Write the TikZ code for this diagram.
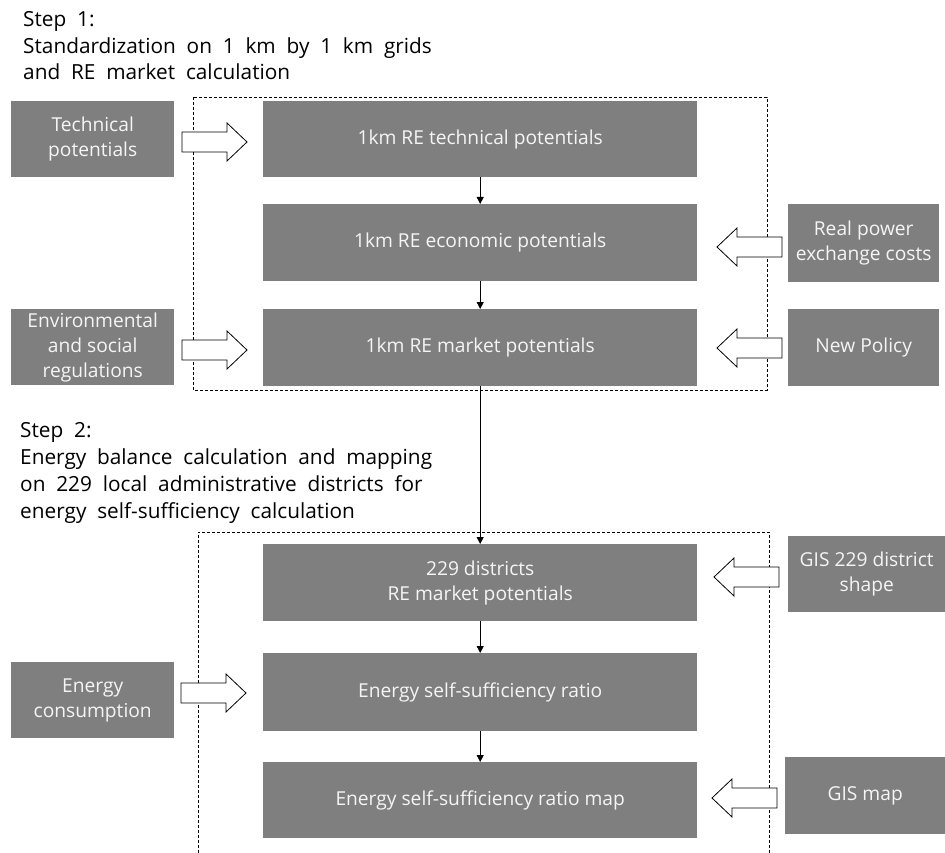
\documentclass[tikz,border=0pt]{standalone}
\usepackage{fontspec}
\setmainfont{Open Sans}
\usetikzlibrary{arrows.meta}
\definecolor{boxgray}{RGB}{127,127,127}
\definecolor{boxtext}{RGB}{245,245,245}
\newcommand\steptextfont{\fontsize{20.8}{26.5}\selectfont}
\newcommand\boxtextfont{\fontsize{19.2}{25}\selectfont}
\begin{document}
\begin{tikzpicture}[x=1pt,y=-1pt,
  box/.style={fill=boxgray, draw=none, text=boxtext, font=\boxtextfont,
    align=center, inner sep=0pt, anchor=north west},
  steptext/.style={anchor=base west, inner sep=0pt, font=\steptextfont, text=black},
  dashbox/.style={draw=black, line width=0.8pt, dash pattern=on 3pt off 2pt},
  flow/.style={draw=black, line width=0.9pt, -{Triangle[width=7pt,length=7pt]}},
  pics/rblk/.style={code={\draw[fill=white, line width=0.8pt]
      (0,-10) -- (45,-10) -- (45,-19) -- (65,0) -- (45,19) -- (45,10) -- (0,10) -- cycle;}},
  pics/lblk/.style={code={\draw[fill=white, line width=0.8pt]
      (0,-10) -- (-45,-10) -- (-45,-19) -- (-65,0) -- (-45,19) -- (-45,10) -- (0,10) -- cycle;}}
]
\useasboundingbox (0,0) rectangle (945,853);

% step texts
\node[steptext] (s1a) at (23,27) {Step\ \ 1:};
\node[steptext] (s1b) at (23,53.5) {Standardization\ \ on\ \ 1\ \ km\ \ by\ \ 1\ \ km\ \ grids};
\node[steptext] (s1c) at (23,80) {and\ \ RE\ \ market\ \ calculation};

\node[steptext] (s2a) at (20,437) {Step\ \ 2:};
\node[steptext] (s2b) at (20,464) {Energy\ \ balance\ \ calculation\ \ and\ \ mapping};
\node[steptext] (s2c) at (20,491) {on\ \ 229\ \ local\ \ administrative\ \ districts\ \ for};
\node[steptext] (s2d) at (20,518) {energy\ \ self-sufficiency\ \ calculation};

% dashed frames
\draw[dashbox] (193,97) rectangle (767,390);
\draw[dashbox] (198,853) -- (198,532) -- (769,532) -- (769,853);

% main boxes
\node[box, minimum width=434, minimum height=76] (m1) at (263,101) {1km RE technical potentials};
\node[box, minimum width=434, minimum height=77] (m2) at (263,204) {1km RE economic potentials};
\node[box, minimum width=434, minimum height=77] (m3) at (263,309) {1km RE market potentials};
\node[box, minimum width=434, minimum height=77] (m4) at (263,544) {229 districts\\RE market potentials};
\node[box, minimum width=434, minimum height=78] (m5) at (263,653) {Energy self-sufficiency ratio};
\node[box, minimum width=434, minimum height=76] (m6) at (263,762) {Energy self-sufficiency ratio map};

% left input boxes
\node[box, minimum width=163, minimum height=76] (l1) at (11,101) {Technical\\potentials};
\node[box, minimum width=163, minimum height=76] (l2) at (11,309) {Environmental\\and social\\regulations};
\node[box, minimum width=163, minimum height=76] (l3) at (11,662) {Energy\\consumption};

% right input boxes
\node[box, minimum width=151, minimum height=78] (r1) at (788,204) {Real power\\exchange costs};
\node[box, minimum width=151, minimum height=77] (r2) at (788,309) {New Policy};
\node[box, minimum width=157, minimum height=76] (r3) at (788,536) {GIS 229 district\\shape};
\node[box, minimum width=160, minimum height=77] (r4) at (785,757) {GIS map};

% vertical flow connectors
\draw[flow] (m1.south) -- (m2.north);
\draw[flow] (m2.south) -- (m3.north);
\draw[flow] (m3.south) -- (m4.north);
\draw[flow] (m4.south) -- (m5.north);
\draw[flow] (m5.south) -- (m6.north);

% block arrows (input arrows)
\pic at (182,142) {rblk};
\pic at (182,350) {rblk};
\pic at (181,693) {rblk};
\pic at (782,247) {lblk};
\pic at (782,348) {lblk};
\pic at (779,577) {lblk};
\pic at (777,798) {lblk};
\end{tikzpicture}
\end{document}
